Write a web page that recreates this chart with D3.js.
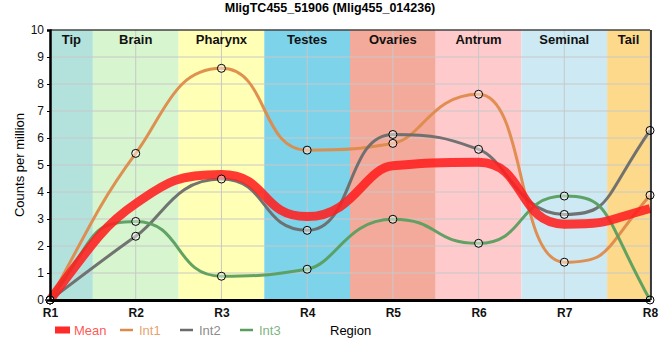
<!DOCTYPE html>
<html>
<head>
<meta charset="utf-8">
<script src="https://cdn.jsdelivr.net/npm/d3@7"></script>
<style>
  body { margin: 0; background: #fff; }
  svg { font-family: "Liberation Sans", Arial, sans-serif; }
</style>
</head>
<body>
<svg id="chart" width="660" height="360"></svg>
<script>
// data
const regions = ["R1", "R2", "R3", "R4", "R5", "R6", "R7", "R8"];
const meanVals = [0, 3.57, 4.65, 3.09, 4.97, 5.10, 2.81, 3.39];
const int1Vals = [0, 5.43, 8.58, 5.55, 5.80, 7.62, 1.40, 3.88];
const int2Vals = [0, 2.36, 4.48, 2.58, 6.13, 5.58, 3.17, 6.28];
const int3Vals = [0, 2.91, 0.88, 1.14, 2.99, 2.10, 3.85, 0];
const yTicks = [0, 1, 2, 3, 4, 5, 6, 7, 8, 9, 10];
const tissues = ["Tip", "Brain", "Pharynx", "Testes", "Ovaries", "Antrum", "Seminal", "Tail"];
const tissueColors = ["#b3e2dc", "#d7f5cf", "#ffffb5", "#7dd3ea", "#f4aa9b", "#fecacb", "#cdeaf4", "#fdd98b"];

const margin = {top: 30, right: 10, bottom: 60, left: 50};
const width = 660 - margin.left - margin.right;
const height = 360 - margin.top - margin.bottom;

const svg = d3.select("#chart");
const g = svg.append("g").attr("transform", "translate(" + margin.left + "," + margin.top + ")");

const x = d3.scaleLinear().domain([0, regions.length - 1]).range([0, width]);
const y = d3.scaleLinear().domain([0, 10]).range([height, 0]);

// tissue bands, edges half way between regions
g.selectAll(".band")
  .data(tissues)
  .enter().append("rect")
  .attr("x", (d, i) => x(Math.max(i - 0.5, 0)))
  .attr("y", 0)
  .attr("width", (d, i) => x(Math.min(i + 0.5, regions.length - 1)) - x(Math.max(i - 0.5, 0)))
  .attr("height", height)
  .attr("fill", (d, i) => tissueColors[i]);

// grid
g.selectAll(".hgrid")
  .data(yTicks)
  .enter().append("line")
  .attr("x1", 0).attr("x2", width)
  .attr("y1", d => y(d)).attr("y2", d => y(d))
  .attr("stroke", "#c8c8c8").attr("stroke-width", 1);

g.selectAll(".vgrid")
  .data(regions)
  .enter().append("line")
  .attr("x1", (d, i) => x(i)).attr("x2", (d, i) => x(i))
  .attr("y1", 0).attr("y2", height)
  .attr("stroke", "#c8c8c8").attr("stroke-width", 1);

g.selectAll(".tissue")
  .data(tissues)
  .enter().append("text")
  .attr("x", (d, i) => (x(Math.max(i - 0.5, 0)) + x(Math.min(i + 0.5, regions.length - 1))) / 2)
  .attr("y", 14)
  .attr("text-anchor", "middle")
  .style("font-size", "13px")
  .style("font-weight", "bold")
  .attr("fill", "#111")
  .text(d => d);

// monotone tangents; long control handles at peaks/troughs and the ends,
// normal 1/3 handles where the curve passes through with a slope
const longHandle = 0.55;
const shortHandle = 1 / 3;
function smoothPath(pts) {
  const n = pts.length;
  const m = new Array(n).fill(0);
  const k = new Array(n).fill(longHandle);
  for (let i = 1; i < n - 1; i++) {
    const h0 = pts[i][0] - pts[i - 1][0], h1 = pts[i + 1][0] - pts[i][0];
    const s0 = (pts[i][1] - pts[i - 1][1]) / h0, s1 = (pts[i + 1][1] - pts[i][1]) / h1;
    const p = (s0 * h1 + s1 * h0) / (h0 + h1);
    m[i] = (Math.sign(s0) + Math.sign(s1)) * Math.min(Math.abs(s0), Math.abs(s1), 0.5 * Math.abs(p)) || 0;
    if (m[i] !== 0) k[i] = shortHandle;
  }
  const hA = pts[1][0] - pts[0][0];
  m[0] = (3 * (pts[1][1] - pts[0][1]) / hA - m[1]) / 2;
  const hB = pts[n - 1][0] - pts[n - 2][0];
  m[n - 1] = (3 * (pts[n - 1][1] - pts[n - 2][1]) / hB - m[n - 2]) / 2;

  const path = d3.path();
  path.moveTo(pts[0][0], pts[0][1]);
  for (let i = 0; i < n - 1; i++) {
    const h = pts[i + 1][0] - pts[i][0];
    const d0 = k[i] * h;
    const d1 = k[i + 1] * h;
    path.bezierCurveTo(pts[i][0] + d0, pts[i][1] + d0 * m[i],
                       pts[i + 1][0] - d1, pts[i + 1][1] - d1 * m[i + 1],
                       pts[i + 1][0], pts[i + 1][1]);
  }
  return path.toString();
}

const series = [
  {name: "Int1", vals: int1Vals, color: "#de8a4a", w: 3},
  {name: "Int2", vals: int2Vals, color: "#6b6b6b", w: 3},
  {name: "Int3", vals: int3Vals, color: "#5a9e5e", w: 3},
  {name: "Mean", vals: meanVals, color: "#ff1f1f", w: 9, op: 0.88}
];

series.forEach(s => {
  g.append("path")
    .attr("d", smoothPath(s.vals.map((v, i) => [x(i), y(v)])))
    .attr("fill", "none")
    .attr("stroke", s.color)
    .attr("stroke-width", s.w)
    .attr("stroke-opacity", s.op || 0.95);
});

// point markers for the individual series
series.filter(s => s.name !== "Mean").forEach(s => {
  g.selectAll(".pt-" + s.name)
    .data(s.vals)
    .enter().append("circle")
    .attr("cx", (d, i) => x(i))
    .attr("cy", d => y(d))
    .attr("r", 4)
    .attr("fill", "rgba(255,255,255,0.45)")
    .attr("stroke", "#000")
    .attr("stroke-width", 1);
});

// frame and axes
g.append("line").attr("x1", 0).attr("x2", width).attr("y1", 0).attr("y2", 0)
  .attr("stroke", "#000").attr("stroke-width", 1);
g.append("line").attr("x1", width + 1).attr("x2", width + 1).attr("y1", 0).attr("y2", height)
  .attr("stroke", "#000").attr("stroke-width", 1.5);

const yAxis = g.append("g")
  .call(d3.axisLeft(y).tickValues(yTicks).tickSize(3).tickPadding(3));
yAxis.select(".domain").attr("stroke-width", 2.5);
yAxis.selectAll("text").style("font-size", "12px").style("font-family", "Liberation Sans, Arial, sans-serif").attr("fill", "#111");

const xAxis = g.append("g")
  .attr("transform", "translate(0," + height + ")")
  .call(d3.axisBottom(x).tickValues(d3.range(regions.length)).tickFormat(i => regions[i]).tickSize(0).tickPadding(8));
xAxis.select(".domain").attr("stroke-width", 3);
xAxis.selectAll("text").style("font-size", "12px").style("font-weight", "bold")
  .style("font-family", "Liberation Sans, Arial, sans-serif").attr("fill", "#111");

// titles
svg.append("text")
  .attr("x", 330).attr("y", 12)
  .attr("text-anchor", "middle")
  .style("font-size", "12.5px").style("font-weight", "bold")
  .text("MligTC455_51906 (Mlig455_014236)");

svg.append("text")
  .attr("transform", "translate(24," + (margin.top + height / 2) + ") rotate(-90)")
  .attr("text-anchor", "middle")
  .style("font-size", "13px")
  .text("Counts per million");

svg.append("text")
  .attr("x", 330).attr("y", 335)
  .style("font-size", "13px")
  .text("Region");

// legend
const legendItems = [
  {name: "Mean", color: "#ff2a2a", x: 55, sw: 15, h: 7},
  {name: "Int1", color: "#de8a4a", x: 120, sw: 13, h: 2.5},
  {name: "Int2", color: "#6b6b6b", x: 180, sw: 13, h: 2.5},
  {name: "Int3", color: "#5a9e5e", x: 240, sw: 13, h: 2.5}
];
const legend = svg.append("g");
legendItems.forEach(d => {
  legend.append("rect")
    .attr("x", d.x).attr("y", 330 - d.h / 2)
    .attr("width", d.sw).attr("height", d.h)
    .attr("fill", d.color);
  legend.append("text")
    .attr("x", d.x + d.sw + 4 + (d.name === "Mean" ? 0 : 2)).attr("y", 335)
    .style("font-size", "13px")
    .attr("fill", d.color)
    .attr("fill-opacity", 0.8)
    .text(d.name);
});
</script>
</body>
</html>
